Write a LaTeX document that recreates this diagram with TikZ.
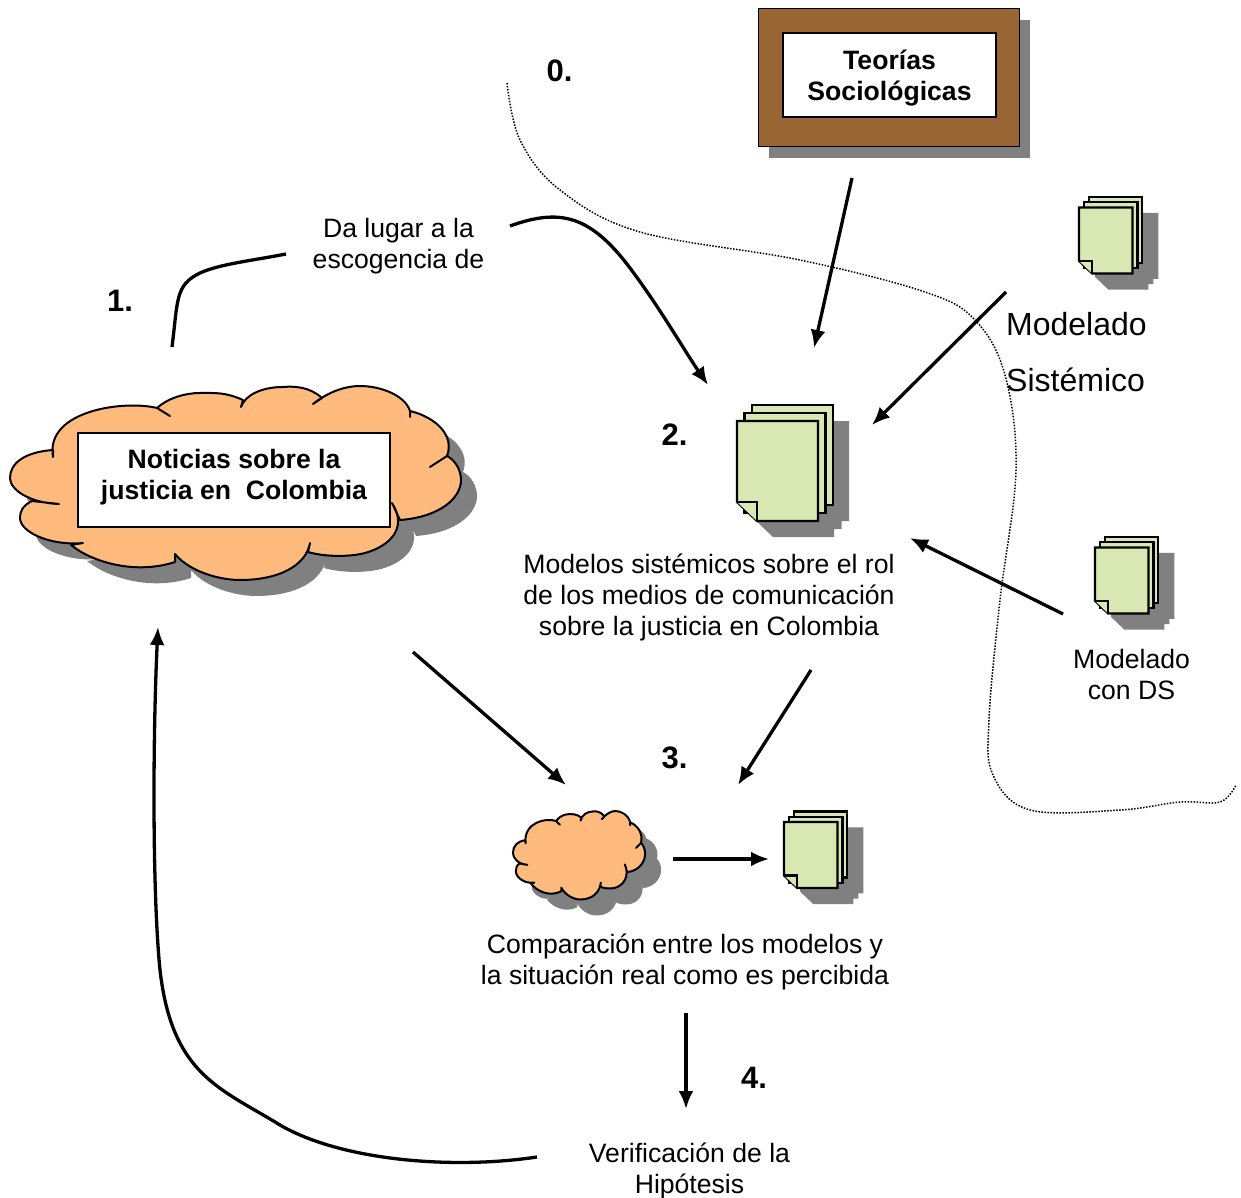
\documentclass[tikz,border=0pt]{standalone}
\usepackage{fontspec}
\setmainfont{Liberation Sans}
\usepackage{tikz}
\usetikzlibrary{arrows.meta}
\definecolor{cloudpeach}{HTML}{FFBB7D}
\definecolor{docgreen}{HTML}{D9E8B3}
\definecolor{framebrown}{HTML}{996633}
\definecolor{shadowgray}{HTML}{808080}
\tikzset{
    txt/.style={inner sep=0pt,align=center,font=\fontsize{26.6}{31}\selectfont},
    boldtxt/.style={txt,font=\fontsize{26.6}{31}\selectfont\bfseries},
    numtxt/.style={inner sep=0pt,font=\fontsize{31}{31}\selectfont\bfseries},
    bigtxt/.style={inner sep=0pt,anchor=west,font=\fontsize{32}{38}\selectfont},
    whitebox/.style={draw,fill=white,line width=2pt,inner sep=0pt},
    sheet/.style={draw,fill=docgreen,line width=2.2pt,line join=miter},
    flow/.style={-{Latex[length=18pt,width=15pt]},line width=3.3pt},
    plainflow/.style={line width=3.3pt},
    border/.style={dash pattern=on 1.5pt off 1.5pt,line width=1.5pt}
}
% one sheet stack, #1,#2 corner of the front sheet, #3 size
\newcommand{\docstack}[3]{
    \fill[shadowgray,shift={(#1+16,#2+16)},scale=#3] (15,-16) -- (96,-16) -- (96,84) -- (88.5,84) -- (88.5,92) -- (81,92) -- (81,100) -- (20,100) -- (0,81) -- (0,0) -- (15,0) -- cycle;
    \begin{scope}[shift={(#1,#2)},scale=#3]
        \draw[sheet] (15,-16) rectangle (96,84);
        \draw[sheet] (7.5,-8) rectangle (88.5,92);
        \draw[sheet] (0,0) -- (81,0) -- (81,100) -- (20,100) -- (0,81) -- cycle;
        \draw[sheet] (0,81) -- (20,81) -- (20,100);
    \end{scope}
}
% cloud outline, in the coordinates of the big one
\newcommand{\cloudline}{(53,450) .. controls (25,452) and (10,463) .. (10,478)
    .. controls (10,490) and (30,503) .. (59,504) -- (32,501)
    .. controls (22,506) and (20,512) .. (20,518)
    .. controls (20,532) and (50,546) .. (83,543) -- (71,545)
    .. controls (92,562) and (135,575) .. (175,562) -- (175,554)
    .. controls (190,572) and (220,580) .. (240,580)
    .. controls (280,580) and (306,565) .. (310,543) -- (308,552)
    .. controls (325,557) and (350,557) .. (365,553)
    .. controls (390,546) and (408,528) .. (392,503) -- (400,520)
    .. controls (440,517) and (461,498) .. (461,480)
    .. controls (461,470) and (455,460) .. (447,456) -- (430,467) -- (447,456)
    .. controls (455,435) and (435,417) .. (410,411) -- (410,417) -- (410,411)
    .. controls (405,395) and (380,386) .. (360,386)
    .. controls (345,386) and (328,392) .. (313,404) -- (322,398)
    .. controls (310,387) and (295,386) .. (283,387)
    .. controls (262,387) and (245,395) .. (241,407) -- (243,400)
    .. controls (225,392) and (215,393) .. (200,393)
    .. controls (185,393) and (168,398) .. (157,408) -- (170,416) -- (157,408)
    .. controls (125,400) and (45,410) .. (53,457) -- (53,450) -- cycle}
\newcommand{\cloud}[4]{
    \fill[shadowgray,shift={(#1+16,#2+16)},xscale=#3,yscale=#4] \cloudline;
    \draw[fill=cloudpeach,line width=2pt,line join=round,shift={(#1,#2)},xscale=#3,yscale=#4] \cloudline;
}

\begin{document}
\begin{tikzpicture}[x=1pt,y=-1pt]
    \useasboundingbox (0,0) rectangle (1241,1198);

    % Frame
    \fill[shadowgray] (769,20) rectangle (1030,158);
    \draw[fill=framebrown,line width=1pt] (758,9) rectangle (1019,147);
    \node[whitebox,minimum width=213pt,minimum height=84pt] (teoriasbox) at (889.5,75) {};
    \node[boldtxt] (teorias) at (889.5,78) {Teorías\\Sociológicas};

    % Clouds
    \cloud{0}{0}{1}{1}
    \cloud{510}{635}{0.293}{0.456}
    \node[whitebox,minimum width=312pt,minimum height=94pt] (noticiasbox) at (234,480) {};
    \node[boldtxt] (noticias) at (234,477.5) {Noticias sobre la\\justicia en\ \ Colombia};

    % Sheets
    \docstack{737}{421}{1}
    \docstack{1079}{207.5}{0.66}
    \docstack{1095}{547.5}{0.66}
    \docstack{784}{822}{0.66}

    % Border
    \draw[border] plot[smooth,tension=0.6] coordinates {(507,83) (520,140) (560,190) (640,232) (800,260) (925,292) (975,320) (1005,375) (1016,470) (1000,600) (989,720) (993,775) (1030,810) (1120,810) (1180,802) (1220,802) (1236,785)};

    % Labels
    \node[txt] (escogencia) at (398.5,246) {Da lugar a la\\escogencia de};
    \node[txt] (modelos) at (709,597) {Modelos sistémicos sobre el rol\\de los medios de comunicación\\sobre la justicia en Colombia};
    \node[txt] (modeladods) at (1131.5,674) {Modelado\\con DS};
    \node[txt] (comparacion) at (685,961.5) {Comparación entre los modelos y\\la situación real como es percibida};
    \node[txt] (verificacion) at (689.5,1170.5) {Verificación de la\\Hipótesis};
    \node[bigtxt] (modeladouno) at (1006,324) {Modelado};
    \node[bigtxt] (modeladodos) at (1006,380) {Sistémico};
    \node[numtxt] (numcero) at (559.5,71) {0.};
    \node[numtxt] (numuno) at (120,301) {1.};
    \node[numtxt] (numdos) at (674.5,435) {2.};
    \node[numtxt] (numtres) at (674.5,758) {3.};
    \node[numtxt] (numcuatro) at (754,1078) {4.};

    % Connector ends
    \coordinate (cloudtop) at (172,347);
    \coordinate (escogenciain) at (286,254);
    \coordinate (escogenciaout) at (510,226);
    \coordinate (stackin) at (708,385);
    \coordinate (teoriasout) at (852,178);
    \coordinate (teoriasin) at (814,348);
    \coordinate (sistemicoout) at (1006,292);
    \coordinate (sistemicoin) at (872,425);
    \coordinate (dsout) at (1063,614);
    \coordinate (dsin) at (910,538);
    \coordinate (modelosout) at (811,670);
    \coordinate (modelosin) at (738,785);
    \coordinate (cloudout) at (413,652);
    \coordinate (smallcloudin) at (566,785);
    \coordinate (smallcloudout) at (673,859);
    \coordinate (smallstackin) at (769,859);
    \coordinate (comparacionout) at (686,1013);
    \coordinate (verificacionin) at (686,1109);
    \coordinate (verificacionout) at (537,1157);
    \coordinate (cloudin) at (158,627);

    \draw[plainflow] (cloudtop) .. controls (178,300) and (175,285) .. (200,273) .. controls (220,264) and (250,261) .. (escogenciain);
    \draw[flow] (escogenciaout) .. controls (560,208) and (590,215) .. (630,268) .. controls (660,308) and (684,350) .. (stackin);
    \draw[flow] (teoriasout) -- (teoriasin);
    \draw[flow] (sistemicoout) -- (sistemicoin);
    \draw[flow] (dsout) -- (dsin);
    \draw[flow] (modelosout) -- (modelosin);
    \draw[flow] (cloudout) -- (smallcloudin);
    \draw[flow] (smallcloudout) -- (smallstackin);
    \draw[flow] (comparacionout) -- (verificacionin);
    \draw[flow] (verificacionout) .. controls (450,1170) and (340,1160) .. (280,1125) .. controls (220,1088) and (172,1075) .. (160,970) .. controls (152,890) and (153,730) .. (cloudin);
\end{tikzpicture}
\end{document}
